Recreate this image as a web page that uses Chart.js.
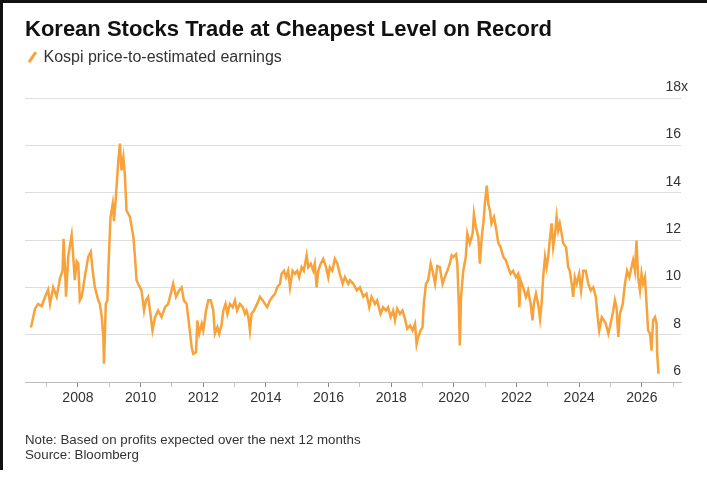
<!DOCTYPE html>
<html>
<head>
<meta charset="utf-8">
<script src="https://cdn.jsdelivr.net/npm/chart.js@4.4.1/dist/chart.umd.min.js"></script>
<style>
  body { margin: 0; background: #fff; }
  #wrap { position: relative; width: 707px; height: 493px; font-family: "Liberation Sans", Arial, sans-serif; }
  #chart { position: absolute; left: 0; top: 0; }
  .frame { position: absolute; background: #111; }
  #title { position: absolute; left: 25px; top: 18px; font-size: 22px; line-height: 22px; font-weight: bold; color: #111; white-space: nowrap; }
  #legend { position: absolute; left: 27px; top: 49px; font-size: 16px; line-height: 16px; color: #333; white-space: nowrap; }
  #legend i { display: inline-block; width: 2.5px; height: 12px; background: #f7a23b; transform: rotate(35deg); margin: 0 10px 0 4px; vertical-align: -1px; }
  #note { position: absolute; left: 25px; top: 432px; font-size: 13.3px; line-height: 15px; color: #333; white-space: nowrap; }
</style>
</head>
<body>
<div id="wrap">
  <canvas id="chart" width="707" height="493"></canvas>
  <div class="frame" style="left:0;top:0;width:707px;height:3px"></div>
  <div class="frame" style="left:0;top:0;width:3px;height:470px"></div>
  <div id="title">Korean Stocks Trade at Cheapest Level on Record</div>
  <div id="legend"><i></i>Kospi price-to-estimated earnings</div>
  <div id="note">Note: Based on profits expected over the next 12 months<br>Source: Bloomberg</div>
</div>
<script>
// decimal years
var dates = [
  2006.50, 2006.63, 2006.73, 2006.84, 2006.95, 2007.05, 2007.11, 2007.21, 2007.32, 2007.43,
  2007.51, 2007.54, 2007.59, 2007.62, 2007.69, 2007.80, 2007.85, 2007.90, 2007.96, 2008.01,
  2008.06, 2008.12, 2008.22, 2008.33, 2008.41, 2008.47, 2008.54, 2008.65, 2008.70, 2008.76,
  2008.81, 2008.83, 2008.86, 2008.89, 2008.94, 2008.97, 2009.00, 2009.04, 2009.11, 2009.15,
  2009.21, 2009.29, 2009.34, 2009.39, 2009.45, 2009.50, 2009.55, 2009.66, 2009.77, 2009.82,
  2009.87, 2009.92, 2009.98, 2010.03, 2010.11, 2010.17, 2010.24, 2010.30, 2010.38, 2010.46,
  2010.56, 2010.67, 2010.78, 2010.88, 2010.99, 2011.04, 2011.13, 2011.23, 2011.31, 2011.38,
  2011.47, 2011.57, 2011.63, 2011.68, 2011.77, 2011.81, 2011.87, 2011.95, 2012.00, 2012.09,
  2012.16, 2012.24, 2012.32, 2012.37, 2012.45, 2012.51, 2012.59, 2012.64, 2012.71, 2012.77,
  2012.85, 2012.94, 2013.01, 2013.08, 2013.17, 2013.26, 2013.33, 2013.38, 2013.44, 2013.49,
  2013.54, 2013.62, 2013.72, 2013.81, 2013.90, 2013.97, 2014.04, 2014.13, 2014.21, 2014.29,
  2014.36, 2014.45, 2014.50, 2014.58, 2014.64, 2014.71, 2014.77, 2014.85, 2014.93, 2015.00,
  2015.06, 2015.14, 2015.21, 2015.30, 2015.35, 2015.43, 2015.51, 2015.56, 2015.62, 2015.67,
  2015.75, 2015.83, 2015.92, 2015.99, 2016.04, 2016.12, 2016.20, 2016.28, 2016.36, 2016.45,
  2016.52, 2016.63, 2016.68, 2016.79, 2016.90, 2017.00, 2017.11, 2017.21, 2017.30, 2017.37,
  2017.48, 2017.55, 2017.66, 2017.74, 2017.83, 2017.90, 2017.98, 2018.06, 2018.12, 2018.19,
  2018.28, 2018.36, 2018.44, 2018.51, 2018.60, 2018.68, 2018.76, 2018.81, 2018.86, 2018.94,
  2019.00, 2019.04, 2019.11, 2019.18, 2019.26, 2019.32, 2019.40, 2019.47, 2019.55, 2019.64,
  2019.71, 2019.79, 2019.87, 2019.93, 2019.98, 2020.07, 2020.11, 2020.15, 2020.19, 2020.23,
  2020.30, 2020.38, 2020.43, 2020.51, 2020.60, 2020.64, 2020.70, 2020.78, 2020.83, 2020.89,
  2020.94, 2020.99, 2021.05, 2021.10, 2021.15, 2021.20, 2021.28, 2021.34, 2021.42, 2021.49,
  2021.58, 2021.66, 2021.73, 2021.81, 2021.89, 2021.98, 2022.05, 2022.09, 2022.13, 2022.21,
  2022.30, 2022.37, 2022.45, 2022.51, 2022.55, 2022.62, 2022.69, 2022.75, 2022.80, 2022.85,
  2022.91, 2022.96, 2023.01, 2023.07, 2023.12, 2023.17, 2023.23, 2023.28, 2023.33, 2023.38,
  2023.44, 2023.49, 2023.58, 2023.65, 2023.70, 2023.76, 2023.81, 2023.86, 2023.92, 2024.00,
  2024.06, 2024.13, 2024.21, 2024.29, 2024.37, 2024.45, 2024.53, 2024.59, 2024.64, 2024.72,
  2024.79, 2024.85, 2024.93, 2024.98, 2025.07, 2025.14, 2025.19, 2025.25, 2025.30, 2025.39,
  2025.46, 2025.53, 2025.60, 2025.67, 2025.72, 2025.78, 2025.83, 2025.88, 2025.94, 2025.99,
  2026.04, 2026.10, 2026.15, 2026.20, 2026.26, 2026.31, 2026.36, 2026.42, 2026.47, 2026.49,
  2026.53
];

// Kospi forward P/E
var peValues = [
  8.3, 9.1, 9.3, 9.2, 9.6, 9.9, 9.3, 10.0, 9.6, 10.4,
  10.7, 12.05, 10.7, 9.6, 11.3, 12.2, 11.3, 10.3, 11.1, 11.0,
  9.45, 9.6, 10.45, 11.3, 11.5, 10.7, 10.0, 9.45, 9.3, 8.75,
  7.9, 6.77, 8.0, 9.3, 9.45, 10.7, 11.7, 12.97, 13.53, 12.8,
  13.8, 15.37, 16.07, 14.94, 15.5, 14.7, 13.25, 12.97, 12.12, 11.3,
  10.3, 10.15, 10.0, 9.87, 9.02, 9.45, 9.6, 9.02, 8.18, 8.74,
  9.02, 8.74, 9.16, 9.3, 9.87, 10.15, 9.6, 9.87, 10.0, 9.45,
  9.3, 8.18, 7.47, 7.19, 7.26, 8.6, 8.04, 8.46, 8.18, 9.02,
  9.45, 9.45, 9.02, 8.04, 8.32, 8.04, 8.46, 9.02, 9.3, 8.88,
  9.3, 9.16, 9.45, 9.02, 9.3, 9.16, 8.88, 9.02, 8.74, 8.18,
  8.88, 9.02, 9.3, 9.6, 9.45, 9.3, 9.16, 9.45, 9.6, 9.73,
  10.0, 10.15, 10.57, 10.7, 10.43, 10.7, 10.0, 10.7, 10.57, 10.7,
  10.43, 10.85, 10.7, 11.35, 10.85, 11.0, 10.7, 11.0, 10.0, 10.7,
  11.0, 11.2, 10.85, 10.43, 10.85, 10.7, 11.2, 11.0, 10.57, 10.15,
  10.43, 10.15, 10.3, 10.15, 9.87, 10.0, 9.6, 9.73, 9.16, 9.6,
  9.3, 9.45, 8.88, 9.16, 9.02, 9.16, 8.74, 9.02, 8.6, 9.1,
  8.88, 9.02, 8.67, 8.25, 8.39, 8.18, 8.46, 7.6, 7.9, 8.18,
  8.32, 9.3, 10.15, 10.3, 11.0, 10.7, 10.15, 10.9, 10.85, 10.15,
  10.43, 10.7, 11.0, 11.35, 11.28, 11.4, 11.0, 9.6, 7.54, 9.6,
  10.7, 11.28, 12.27, 11.86, 12.27, 13.1, 12.55, 12.13, 11.0, 12.13,
  12.7, 13.53, 14.3, 13.53, 13.25, 12.7, 12.97, 12.55, 11.86, 11.7,
  11.28, 11.15, 10.85, 10.57, 10.7, 10.43, 10.57, 9.16, 10.3, 10.0,
  9.6, 9.87, 9.3, 8.6, 9.3, 9.73, 9.3, 8.67, 9.3, 10.43,
  11.28, 10.85, 11.28, 12.13, 12.7, 11.7, 12.27, 12.97, 12.4, 12.7,
  12.27, 11.86, 11.7, 10.85, 10.7, 10.15, 9.6, 10.43, 10.15, 10.57,
  9.87, 10.7, 10.7, 10.15, 9.87, 10.0, 9.6, 8.74, 8.18, 8.74,
  8.6, 8.46, 8.04, 8.32, 8.88, 9.45, 9.16, 7.9, 8.88, 9.3,
  10.15, 10.7, 10.43, 10.85, 11.15, 10.7, 11.98, 10.43, 9.87, 10.57,
  10.15, 10.43, 9.3, 8.18, 8.04, 7.33, 8.6, 8.74, 8.46, 7.19,
  6.35
];

var yearTicks = [2007, 2008, 2009, 2010, 2011, 2012, 2013, 2014, 2015, 2016, 2017,
  2018, 2019, 2020, 2021, 2022, 2023, 2024, 2025, 2026, 2027];
var valueTicks = [6, 8, 10, 12, 14, 16, 18];

var lineColor = '#f7a23b';
var fontFamily = '"Liberation Sans", Arial, sans-serif';

// y labels sit above their gridlines, right aligned, "x" hangs past the edge
var yLabels = {
    id: 'yLabels',
    afterDraw: function(chart) {
        var ctx = chart.ctx, area = chart.chartArea, y = chart.scales.y;
        ctx.save();
        ctx.font = '14px ' + fontFamily;
        ctx.fillStyle = '#333';
        ctx.textBaseline = 'middle';
        y.ticks.forEach(function(t, i) {
            var py = y.getPixelForValue(t.value) - 11;
            ctx.textAlign = 'right';
            ctx.fillText(String(t.value), area.right, py);
            if (i === y.ticks.length - 1) {
                ctx.textAlign = 'left';
                ctx.fillText('x', area.right, py);
            }
        });
        ctx.restore();
    }
};

new Chart(document.getElementById('chart'), {
    type: 'line',
    data: {
        datasets: [{
            label: 'Kospi price-to-estimated earnings',
            data: dates.map(function(d, i) { return { x: d, y: peValues[i] }; }),
            borderColor: lineColor,
            borderWidth: 2.5,
            pointRadius: 0,
            tension: 0,
            fill: false
        }]
    },
    options: {
        responsive: false,
        animation: false,
        layout: { padding: { left: 25, right: 26, top: 98, bottom: 81 } },
        plugins: { legend: { display: false }, tooltip: { enabled: false } },
        scales: {
            x: {
                type: 'linear',
                min: 2006.31,
                max: 2027.25,
                afterBuildTicks: function(s) { s.ticks = yearTicks.map(function(v) { return { value: v }; }); },
                afterFit: function(s) { s.height = 30; },
                ticks: {
                    autoSkip: false,
                    maxRotation: 0,
                    padding: 3,
                    color: '#333',
                    font: { size: 14, family: fontFamily },
                    callback: function(v) { return v % 2 === 0 ? String(v) : ''; }
                },
                grid: {
                    drawOnChartArea: false,
                    tickLength: 5,
                    color: function(c) { return c.tick && c.tick.value % 2 === 0 ? '#888' : '#c4c4c4'; }
                },
                border: { color: '#bbb' }
            },
            y: {
                min: 6,
                max: 18,
                afterBuildTicks: function(s) { s.ticks = valueTicks.map(function(v) { return { value: v }; }); },
                afterFit: function(s) { s.width = 0; },
                ticks: { display: false },
                grid: { color: '#dedede', drawTicks: false },
                border: { display: false }
            }
        }
    },
    plugins: [yLabels]
});
</script>
</body>
</html>
